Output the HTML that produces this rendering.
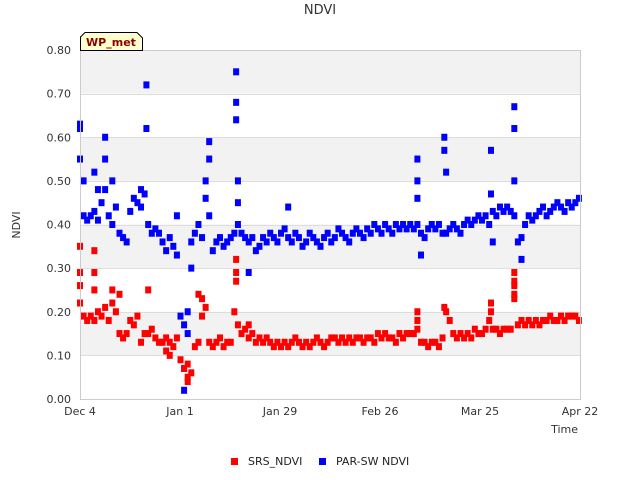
<!DOCTYPE html>
<html><head><meta charset="utf-8"><style>
body{margin:0;background:#fff;}
svg{display:block;font-family:"DejaVu Sans","Liberation Sans",sans-serif;}
</style></head><body>
<svg id="chart" width="640" height="480" viewBox="0 0 640 480">
<text x="320" y="14" text-anchor="middle" font-size="13" fill="#333">NDVI</text>
<g id="bands"></g>
<g id="yaxis"></g>
<g id="xaxis"></g>
<g id="marks"></g>
<rect x="80.5" y="50.5" width="500" height="349" fill="none" stroke="#ccc"/>
<text transform="translate(20,225) rotate(-90)" text-anchor="middle" font-size="11" fill="#333">NDVI</text>
<text x="578" y="433" text-anchor="end" font-size="11" fill="#333">Time</text>
<g>
<path d="M80.5,50.5 V37 L85,32.5 H137 L142.5,38 V50.5 Z" fill="#ffffcc" stroke="#000"/>
<text x="111" y="46" text-anchor="middle" font-size="11" font-weight="bold" fill="#8b0000">WP_met</text>
</g>
<g>
<g><rect x="231" y="458" width="7" height="7" fill="#f00"/><text x="248" y="465" font-size="11" fill="#222">SRS_NDVI</text></g>
<g><rect x="319" y="458" width="7" height="7" fill="#00f"/><text x="336" y="465" font-size="11" fill="#222">PAR-SW NDVI</text></g>
</g>
</svg>
<script>
const yTicks=[0,0.1,0.2,0.3,0.4,0.5,0.6,0.7,0.8];
const xTickLabels=["Dec 4","Jan 1","Jan 29","Feb 26","Mar 25","Apr 22"];
const xTickDays=[0,28,56,84,112,140];
const parDaily=[.62,.42,.41,.42,.43,.41,.45,.48,.42,.40,.44,.38,.37,.36,.43,.46,.45,.44,.47,.40,.38,.39,.38,.36,.34,.37,.35,.33,.19,.17,.15,.36,.38,.40,.37,.46,.42,.34,.36,.37,.35,.36,.37,.38,.40,.38,.37,.36,.37,.34,.35,.37,.36,.38,.37,.36,.38,.39,.37,.36,.38,.37,.35,.36,.38,.37,.36,.35,.37,.38,.36,.37,.39,.38,.37,.36,.38,.39,.38,.37,.39,.38,.40,.39,.38,.40,.39,.38,.40,.39,.40,.39,.40,.39,.40,.38,.37,.39,.40,.39,.40,.38,.38,.39,.40,.39,.38,.40,.41,.40,.41,.42,.41,.42,.40,.43,.42,.44,.43,.44,.43,.42,.36,.37,.40,.42,.41,.42,.43,.44,.42,.43,.44,.45,.44,.43,.45,.44,.45,.46];
const parSpikeDays=[0,0,1,4,5,7,7,9,18.5,18.5,17,27,29,29,30,31,35,36,36,43.5,43.5,43.5,44,44,47,58,94,94,94,95,101.5,101.5,102,114.5,114.5,115,121,121,121,123];
const parSpikeVals=[.63,.55,.50,.52,.48,.55,.60,.50,.72,.62,.48,.42,.07,.02,.20,.30,.50,.59,.55,.75,.68,.64,.50,.45,.29,.44,.55,.50,.46,.33,.60,.57,.52,.57,.47,.36,.67,.62,.50,.32];
const srsDaily=[.22,.19,.18,.19,.18,.20,.19,.21,.18,.22,.20,.15,.14,.15,.18,.17,.19,.13,.15,.15,.16,.14,.13,.13,.14,.13,.12,.14,.09,.07,.08,.06,.12,.13,.19,.21,.13,.12,.13,.14,.12,.13,.13,.20,.17,.15,.16,.14,.15,.13,.14,.13,.14,.13,.12,.13,.12,.13,.12,.13,.14,.13,.12,.13,.12,.13,.14,.13,.12,.13,.14,.14,.13,.14,.13,.14,.13,.14,.14,.13,.14,.14,.13,.15,.14,.15,.14,.14,.13,.15,.14,.15,.15,.15,.16,.13,.13,.12,.13,.13,.12,.14,.20,.18,.15,.14,.15,.14,.15,.14,.16,.15,.15,.16,.18,.16,.16,.15,.16,.16,.16,.24,.17,.18,.17,.18,.17,.18,.17,.18,.18,.19,.18,.18,.19,.18,.19,.19,.19,.18];
const srsSpikeDays=[0,0,0,4,4,4,9,11,19,24,25,30,30,33,34,43.5,43.5,43.5,47,94,94,101.5,114.5,114.5,121,121,121,121];
const srsSpikeVals=[.35,.29,.26,.34,.29,.25,.25,.24,.25,.11,.10,.04,.05,.24,.23,.32,.29,.27,.17,.20,.18,.21,.22,.20,.29,.27,.26,.23];

const X0=80,X1=580,Y0=399,Y1=50,DMAX=139.3;
function xs(d){return X0+d/DMAX*(X1-X0);}
function ys(v){return Y0-v/0.8*(Y0-Y1);}
const NS="http://www.w3.org/2000/svg";
function mk(tag,attrs,parent){const e=document.createElementNS(NS,tag);for(const k in attrs)e.setAttribute(k,attrs[k]);parent.appendChild(e);return e;}
const bands=document.getElementById('bands'),ya=document.getElementById('yaxis'),xa=document.getElementById('xaxis'),marks=document.getElementById('marks');
for(let i=0;i<yTicks.length-1;i++){
  if(i%2===1){const r=mk('rect',{x:X0,y:ys(yTicks[i+1]),width:X1-X0,height:ys(yTicks[i])-ys(yTicks[i+1]),fill:'#f2f2f2'},bands);
  
  }
}
yTicks.forEach(v=>{
  const l=mk('line',{x1:X0,x2:X1,y1:Math.round(ys(v))+0.5,y2:Math.round(ys(v))+0.5,stroke:'#ddd'},bands);
  
  
  const t=mk('text',{x:71,y:ys(v)+4,'text-anchor':'end','font-size':11,fill:'#333'},ya);
  
  
  t.textContent=v.toFixed(2);
});
xTickLabels.forEach((lab,i)=>{
  const t=mk('text',{x:xs(xTickDays[i]*0.995),y:415,'text-anchor':'middle','font-size':11,fill:'#333'},xa);
  
  
  t.textContent=lab;
});
function pt(d,v,c,name){
  const r=mk('rect',{x:xs(d)-3,y:ys(v)-3.5,width:6,height:7,fill:c},marks);
  
  
}
parDaily.forEach((v,i)=>pt(i,v,'#00f','par-point'));
parSpikeDays.forEach((d,i)=>pt(d,parSpikeVals[i],'#00f','par-point'));
srsDaily.forEach((v,i)=>pt(i,v,'#f00','srs-point'));
srsSpikeDays.forEach((d,i)=>pt(d,srsSpikeVals[i],'#f00','srs-point'));
</script>
</body></html>
